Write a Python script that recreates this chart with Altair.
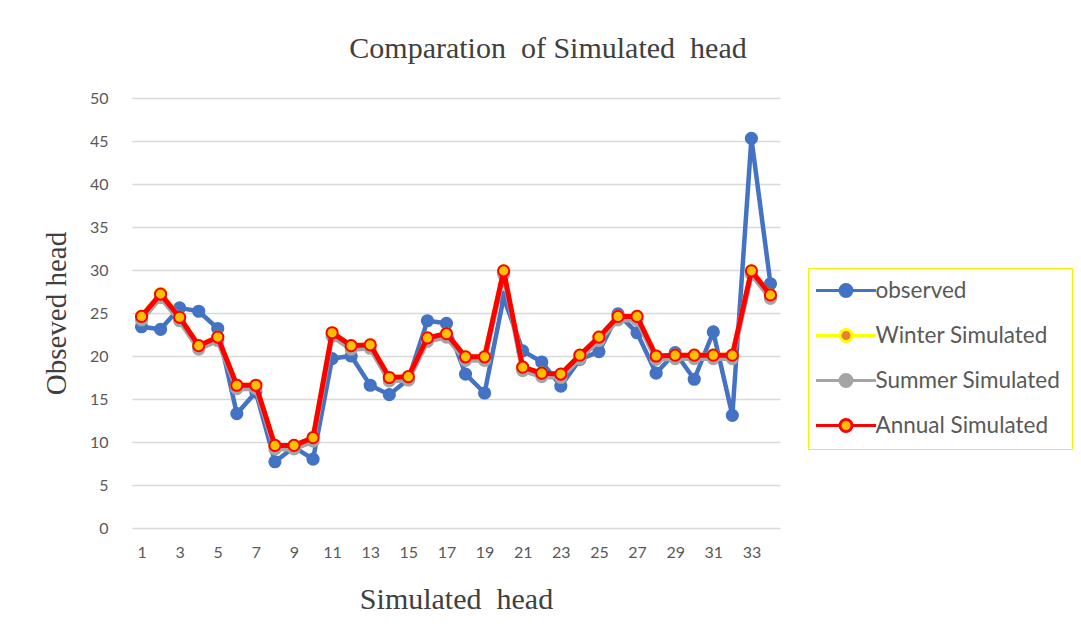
import altair as alt
import pandas as pd

points = list(range(1, 35))
observed = [23.4, 23.1, 25.6, 25.2, 23.2, 13.3, 15.8, 7.7, 9.4, 8.0,
            19.7, 20.0, 16.6, 15.5, 17.3, 24.1, 23.8, 17.9, 15.7, 26.8,
            20.6, 19.3, 16.5, 19.6, 20.5, 24.9, 22.7, 18.0, 20.4, 17.3,
            22.8, 13.1, 45.3, 28.4]
winter = [24.6, 27.3, 24.5, 21.2, 22.2, 16.6, 16.6, 9.6, 9.6, 10.5,
          22.7, 21.2, 21.3, 17.5, 17.6, 22.1, 22.6, 19.9, 19.9, 29.9,
          18.7, 18.0, 17.9, 20.1, 22.2, 24.6, 24.6, 20.0, 20.1, 20.1,
          20.1, 20.1, 29.9, 27.1]
summer = [24.2, 26.8, 24.1, 20.8, 21.8, 16.2, 16.2, 9.2, 9.2, 10.1,
          22.3, 20.8, 20.9, 17.1, 17.2, 21.7, 22.2, 19.5, 19.5, 29.5,
          18.3, 17.6, 17.5, 19.7, 21.8, 24.2, 24.2, 19.6, 19.7, 19.7,
          19.7, 19.7, 29.5, 26.7]
annual = [24.6, 27.2, 24.5, 21.2, 22.2, 16.6, 16.6, 9.6, 9.6, 10.5,
          22.7, 21.2, 21.3, 17.5, 17.6, 22.1, 22.6, 19.9, 19.9, 29.9,
          18.7, 18.0, 17.9, 20.1, 22.2, 24.6, 24.6, 20.0, 20.1, 20.1,
          20.1, 20.1, 29.9, 27.1]

names = ["observed", "Winter Simulated", "Summer Simulated", "Annual Simulated"]
line_colors = ["#4472C4", "#FFFF00", "#A5A5A5", "#FF0000"]
fill_colors = ["#4472C4", "#ED7D31", "#A5A5A5", "#FFC000"]
x_ticks = list(range(1, 34, 2))
y_ticks = list(range(0, 51, 5))

rows = []
for name, vals in zip(names, [observed, winter, summer, annual]):
    for p, v in zip(points, vals):
        rows.append({"point": p, "head": v, "series": name})
df = pd.DataFrame(rows)

SYMBOL = ("M-3,0L-0.6,0M0.6,0L3,0"
          "M-0.6,0A0.6,0.6,0,1,1,0.6,0A0.6,0.6,0,1,1,-0.6,0Z")

legend = alt.Legend(
    title=None, orient="none", legendX=676, legendY=170,
    symbolType=SYMBOL, symbolSize=400, symbolStrokeWidth=3,
    symbolOffset=15.5, labelOffset=18,
    labelFont="Lato", labelFontSize=22.5, labelColor="#595959", labelLimit=300,
    rowPadding=20, padding=11, strokeColor="#F2F200", fillColor="white",
)

x_enc = alt.X(
    "point:Q",
    scale=alt.Scale(domain=[0.5, 34.5], nice=False, zero=False),
    axis=alt.Axis(values=x_ticks, format="d", grid=False, domain=False, ticks=False,
                  labelFont="Lato", labelFontSize=16, labelColor="#595959",
                  labelPadding=16, title="Simulated\u00a0\u00a0head",
                  titleFont="Liberation Serif", titleFontSize=30,
                  titleFontWeight="normal", titleColor="#404040", titlePadding=24),
)
y_enc = alt.Y(
    "head:Q",
    scale=alt.Scale(domain=[0, 50], nice=False),
    axis=alt.Axis(values=y_ticks, grid=True, gridColor="#D9D9D9", gridWidth=1.5,
                  domain=False, ticks=False,
                  labelFont="Lato", labelFontSize=16, labelColor="#595959",
                  labelPadding=24, title="Obseved head",
                  titleFont="Liberation Serif", titleFontSize=29,
                  titleFontWeight="normal", titleColor="#404040", titlePadding=18),
)

stroke_scale = alt.Scale(domain=names, range=line_colors)
fill_scale = alt.Scale(domain=names, range=fill_colors)

layers = []
for name in names:
    base = alt.Chart(df).transform_filter(alt.datum.series == name)
    line = base.mark_line(strokeWidth=5 if name != "observed" else 4.5).encode(
        x=x_enc, y=y_enc,
        stroke=alt.Stroke("series:N", scale=stroke_scale, legend=legend),
    )
    pts = base.mark_point(shape="circle", filled=True, size=125, strokeWidth=2, opacity=1).encode(
        x=x_enc, y=y_enc,
        stroke=alt.Stroke("series:N", scale=stroke_scale, legend=legend),
        fill=alt.Fill("series:N", scale=fill_scale, legend=legend),
    )
    layers += [line, pts]

chart = alt.layer(*layers).properties(
    width=648, height=430,
    title=alt.TitleParams(text="Comparation\u00a0\u00a0of Simulated\u00a0\u00a0head",
                          font="Liberation Serif", fontSize=30, fontWeight="normal",
                          color="#404040", anchor="middle", frame="group", dx=92, offset=26),
    autosize=alt.AutoSizeParams(type="none"),
    padding={"left": 124, "top": 90, "right": 293, "bottom": 95},
).configure_view(stroke=None)

chart.save("out.html", embed_options={"renderer": "svg", "actions": False})
